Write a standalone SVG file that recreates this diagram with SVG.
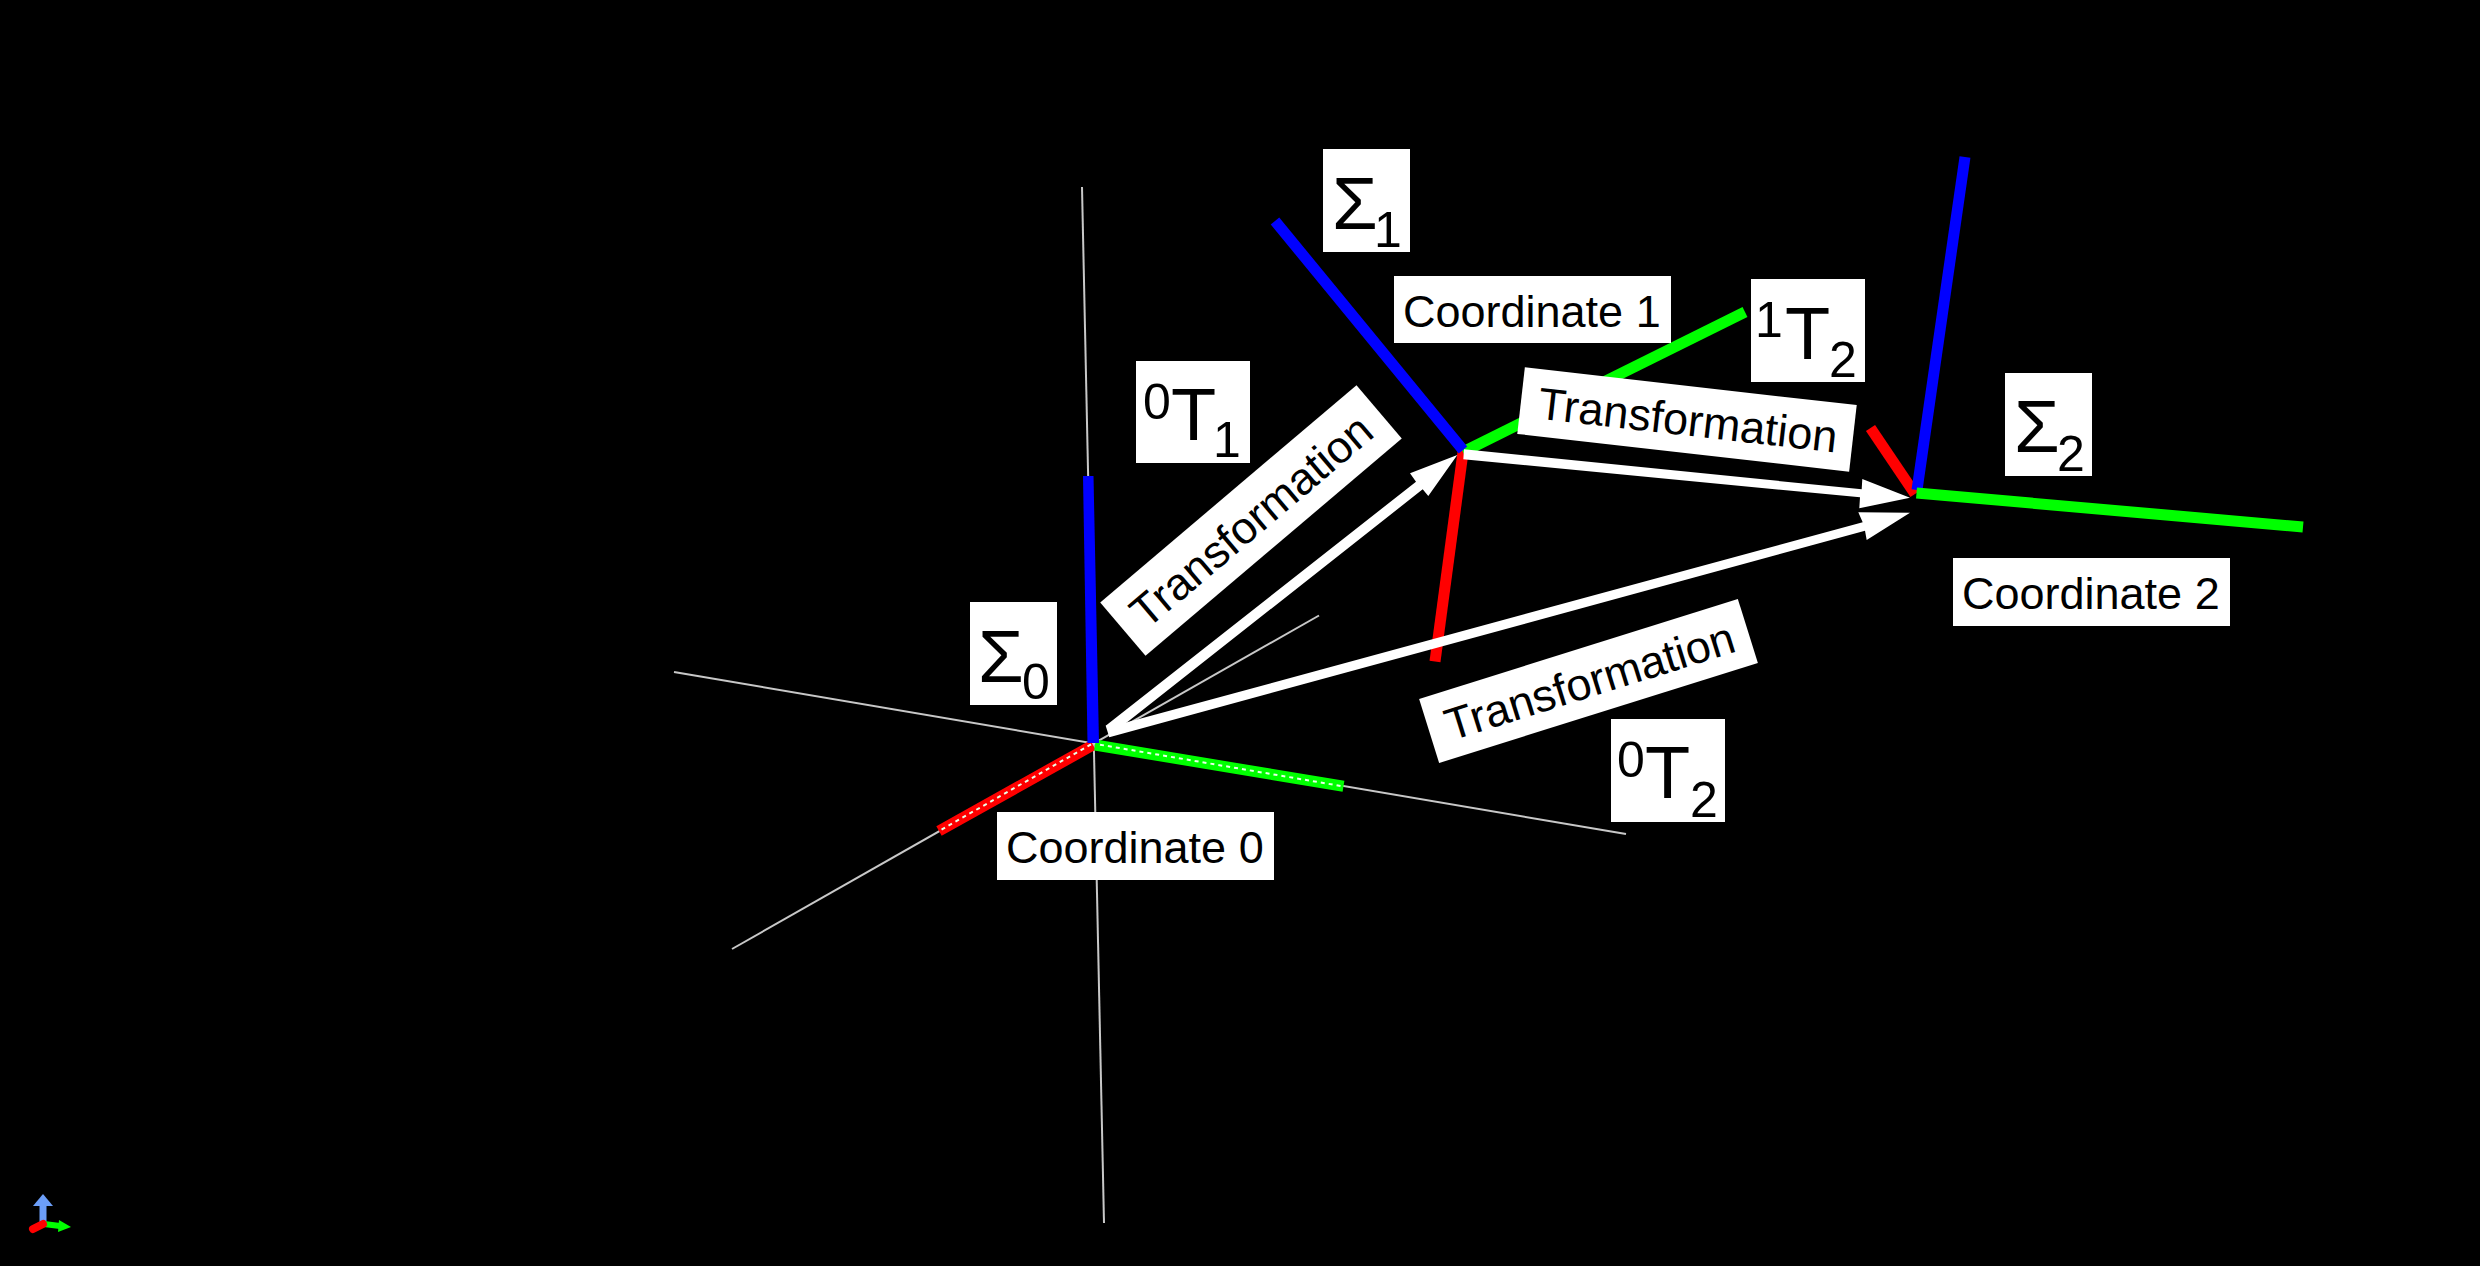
<svg xmlns="http://www.w3.org/2000/svg" width="2480" height="1266" viewBox="0 0 2480 1266">
<style>
text{font-family:"Liberation Sans",Arial,sans-serif;fill:#000}
.box{fill:#fff}
.lbl{font-size:45px}
.big{font-size:74px}
.sm{font-size:50px}
.thin{stroke:#c8c8c8;stroke-width:2;fill:none}
.x{stroke:#f00;stroke-width:11;fill:none}
.y{stroke:#0f0;stroke-width:11;fill:none}
.z{stroke:#00f;stroke-width:11;fill:none}
.fight{stroke:#e8ffe8;stroke-width:2;stroke-dasharray:4 4;fill:none}
.arrow{fill:#fff}
</style>
<rect id="background" width="2480" height="1266" fill="#000"/>
<g id="connectors">
<g id="world-axes">
<line class="thin" x1="1082" y1="187" x2="1104" y2="1223"/>
<line class="thin" x1="674" y1="672" x2="1626" y2="834"/>
<line class="thin" x1="732" y1="949" x2="1319" y2="615.5"/>
</g>
<g id="axes-0">
<line class="x" x1="1093" y1="745" x2="939" y2="831"/>
<line class="y" x1="1095" y1="745" x2="1343.5" y2="786.3"/>
<polygon fill="#00f" points="1083,476 1093.5,476 1099,743 1087.5,743"/>
<line class="fight" x1="1091" y1="744.4" x2="939" y2="831"/>
<line class="fight" x1="1100" y1="744.7" x2="1341" y2="786"/>
</g>
<g id="axes-1">
<line class="x" x1="1463.3" y1="450" x2="1435" y2="661.5"/>
<line class="y" x1="1463" y1="452" x2="1745" y2="312"/>
<line class="z" x1="1463" y1="450" x2="1275" y2="221"/>
</g>
<g id="axes-2">
<line class="x" x1="1915" y1="494" x2="1870.5" y2="428"/>
<line class="z" x1="1917" y1="490" x2="1965" y2="157"/>
<line class="y" x1="1916.5" y1="493" x2="2303" y2="527"/>
</g>
<g id="arrows">
<polygon class="arrow" points="1105.7,725.7 1416,481.7 1410,473.3 1457.3,455 1428.3,496 1422.7,489.3 1112.2,734"/>
<polygon class="arrow" points="1464,449.3 1861.7,489.3 1862.3,479 1910,497.7 1859.3,508.3 1860,497.3 1463.3,459.3"/>
<polygon class="arrow" points="1109.3,737.3 1865,530.7 1866.7,540 1910,512.7 1858.3,512.3 1862.7,522.3 1123.3,723.3 1105.7,725.7"/>
</g>
</g>
<g id="label-sigma0"><rect class="box" x="970" y="602" width="87" height="103"/><text class="big" x="978" y="681.5">Σ<tspan class="sm" x="1022" y="699">0</tspan></text></g>
<g id="label-sigma1"><rect class="box" x="1323" y="149" width="87" height="103"/><text class="big" x="1332" y="229">Σ<tspan class="sm" x="1374" y="247">1</tspan></text></g>
<g id="label-sigma2"><rect class="box" x="2005" y="373" width="87" height="103"/><text class="big" x="2014" y="452">Σ<tspan class="sm" x="2057" y="471">2</tspan></text></g>
<g id="label-0t1"><rect class="box" x="1136" y="361" width="114" height="102"/><text class="sm" x="1143" y="418.5">0<tspan class="big" x="1171" y="439.5">T</tspan><tspan x="1213" y="457">1</tspan></text></g>
<g id="label-1t2"><rect class="box" x="1751" y="279" width="114" height="103"/><text class="sm" x="1755" y="336.7">1<tspan class="big" x="1785" y="358.7">T</tspan><tspan x="1829" y="376.7">2</tspan></text></g>
<g id="label-0t2"><rect class="box" x="1611" y="719" width="114" height="103"/><text class="sm" x="1617" y="776.7">0<tspan class="big" x="1645" y="798">T</tspan><tspan x="1690" y="816.7">2</tspan></text></g>
<g id="label-coord0"><rect class="box" x="997" y="812" width="277" height="68"/><text class="lbl" x="1006" y="863">Coordinate 0</text></g>
<g id="label-coord1"><rect class="box" x="1394" y="276" width="277" height="67"/><text class="lbl" x="1403" y="327">Coordinate 1</text></g>
<g id="label-coord2"><rect class="box" x="1953" y="558" width="277" height="68"/><text class="lbl" x="1962" y="609">Coordinate 2</text></g>
<g id="label-transform-01" transform="translate(1251 520.5) rotate(-40.3)"><rect class="box" x="-168" y="-35" width="336" height="70"/><text class="lbl" text-anchor="middle" x="0" y="16">Transformation</text></g>
<g id="label-transform-12" transform="translate(1687 419.5) rotate(6.5)"><rect class="box" x="-167" y="-33.5" width="334" height="67"/><text class="lbl" text-anchor="middle" x="1" y="16">Transformation</text></g>
<g id="label-transform-02" transform="translate(1588.5 681) rotate(-17.4)"><rect class="box" x="-167" y="-33.5" width="334" height="67"/><text class="lbl" text-anchor="middle" x="1" y="16">Transformation</text></g>
<g id="triad">
<path d="M43 1224L43 1205" stroke="#6c9ef8" stroke-width="7" fill="none"/><polygon points="43,1194 33,1206 53,1206" fill="#6c9ef8"/>
<path d="M44 1224L60 1226" stroke="#0f0" stroke-width="6" fill="none"/><polygon points="71,1227 59,1220 58,1232" fill="#0f0"/>
<path d="M43 1224L33 1229" stroke="#f00" stroke-width="8" stroke-linecap="round" fill="none"/>
</g>
</svg>
